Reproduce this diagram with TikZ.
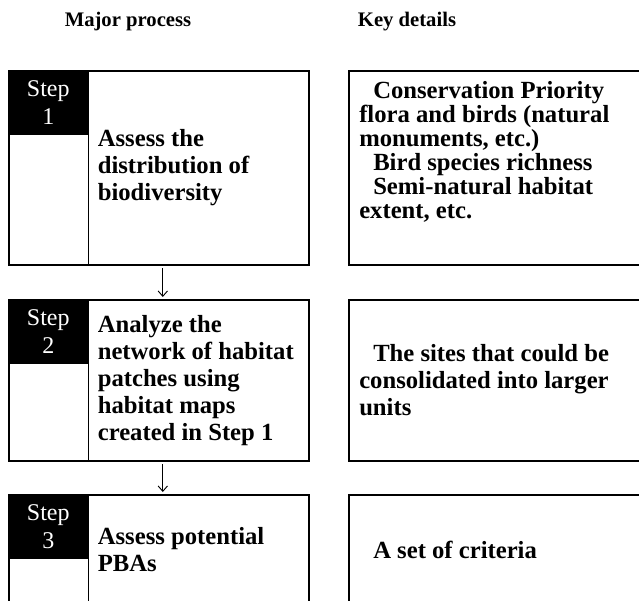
\documentclass[tikz,border=0pt]{standalone}
\usepackage{fontspec}
\setmainfont{Liberation Serif}
\usetikzlibrary{positioning,arrows.meta}

\begin{document}
\begin{tikzpicture}[x=0.75pt,y=-0.75pt,
  every node/.style={font=\bfseries\fontsize{18.5}{20.25}\selectfont},
  head/.style={font=\bfseries\fontsize{15.5}{18}\selectfont},
  procbox/.style={draw,line width=1.2pt,minimum width=225pt,inner sep=0pt,anchor=north west},
  stepcell/.style={fill=black,text=white,minimum width=60pt,minimum height=48.75pt,inner sep=0pt,
    anchor=north west,align=center,font=\fontsize{18}{21}\selectfont},
  proctext/.style={anchor=west,align=left,inner sep=0pt},
  keybox/.style={draw,line width=1.2pt,minimum width=234pt,inner sep=0pt,anchor=north west},
  keytext/.style={anchor=west,align=left,inner sep=0pt},
  flow/.style={line width=0.7pt,-{Straight Barb[length=4pt,width=7pt]},shorten <=2pt,shorten >=1.5pt}]
\clip (0,0) rectangle (639,600);

% column heads
\node[head] (major) at (128,22) {Major process};
\node[head] (keydet) at (407,22) {Key details};

% step 1
\node[procbox,minimum height=145.5pt] (proc1) at (8,70) {};
\node[stepcell] (step1) at (proc1.north west) {Step\\1};
\draw[line width=1.2pt] (step1.north east) -- (step1.north east |- proc1.south);
\node[proctext] (task1) at ([xshift=6.75pt]step1.east |- proc1.center)
{Assess the\\distribution of\\biodiversity};
\node[keybox,minimum height=145.5pt] (key1) at (348,70) {};
\node[keytext,anchor=north west,font=\bfseries\fontsize{18.5}{18}\selectfont] (det1) at (359,81)
{\hspace*{10.5pt}Conservation Priority\\flora and birds (natural\\monuments, etc.)\\
\hspace*{10.5pt}Bird species richness\\\hspace*{10.5pt}Semi-natural habitat\\extent, etc.};

% step 2
\node[procbox,minimum height=120.75pt] (proc2) at (8,299) {};
\node[stepcell] (step2) at (proc2.north west) {Step\\2};
\draw[line width=1.2pt] (step2.north east) -- (step2.north east |- proc2.south);
\node[proctext] (task2) at ([xshift=6.75pt]step2.east |- proc2.center)
{Analyze the\\network of habitat\\patches using\\habitat maps\\created in Step 1};
\node[keybox,minimum height=120.75pt] (key2) at (348,299) {};
\node[keytext] (det2) at ([xshift=8.25pt]key2.west)
{\hspace*{10.5pt}The sites that could be\\consolidated into larger\\units};

% step 3
\node[procbox,minimum height=82.5pt] (proc3) at (8,494) {};
\node[stepcell] (step3) at (proc3.north west) {Step\\3};
\draw[line width=1.2pt] (step3.north east) -- (step3.north east |- proc3.south);
\node[proctext] (task3) at ([xshift=6.75pt]step3.east |- proc3.center)
{Assess potential\\PBAs};
\node[keybox,minimum height=82.5pt] (key3) at (348,494) {};
\node[keytext] (det3) at ([xshift=8.25pt]key3.west)
{\hspace*{10.5pt}A set of criteria};

\draw[flow] ([xshift=3pt]proc1.south) -- ([xshift=3pt]proc2.north);
\draw[flow] ([xshift=3pt]proc2.south) -- ([xshift=3pt]proc3.north);
\end{tikzpicture}
\end{document}
